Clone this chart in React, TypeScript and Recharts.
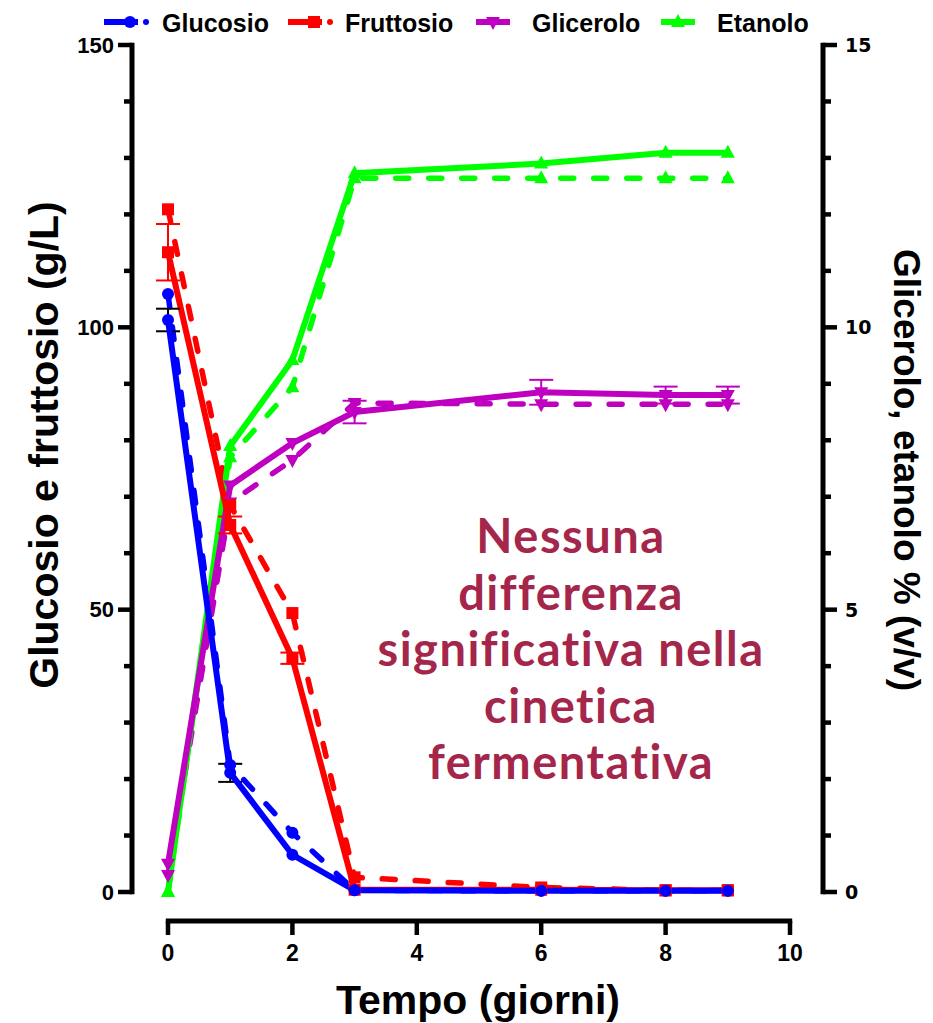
import { ComposedChart, Line, XAxis, YAxis, ErrorBar } from 'recharts'

const days = [0, 1, 2, 3, 6, 8, 9]

// two fermentations per compound: "A" drawn solid, "B" dashed
const glucosioA = [101.3, 21.1, 6.6, 0.3, 0.2, 0.2, 0.2]
const glucosioB = [105.9, 22.5, 10.5, 0.3, 0.2, 0.2, 0.2]
const fruttosioA = [113.3, 65.0, 41.4, 0.4, 0.4, 0.3, 0.3]
const fruttosioB = [120.9, 68.5, 49.4, 2.6, 0.8, 0.3, 0.3]
const gliceroloA = [0.5, 7.2, 7.95, 8.5, 8.85, 8.8, 8.8]
const gliceroloB = [0.3, 6.9, 7.65, 8.66, 8.64, 8.64, 8.64]
const etanoloA = [0, 7.9, 9.42, 12.73, 12.9, 13.09, 13.09]
const etanoloB = [0, 7.7, 8.94, 12.64, 12.64, 12.64, 12.64]

// standard deviations (null = no bar)
const glucosioAErr = [2, 1.6, null, null, null, null, null]
const fruttosioAErr = [5, 1.5, 1, null, null, null, null]
const gliceroloAErr = [null, null, null, 0.2, 0.22, 0.15, 0.15]

const leftTicks = [0, 10, 20, 30, 40, 50, 60, 70, 80, 90, 100, 110, 120, 130, 140, 150]
const rightTicks = [0, 1, 2, 3, 4, 5, 6, 7, 8, 9, 10, 11, 12, 13, 14, 15]
const xTicks = [0, 2, 4, 6, 8, 10]

const annotation = ['Nessuna', 'differenza', 'significativa nella', 'cinetica', 'fermentativa']

const BLUE = '#0000ff'
const RED = '#ff0000'
const PURPLE = '#c000c0'
const GREEN = '#00ff00'
const WINE = '#a4264a'

const rows = days.map((d, i) => ({
  day: d,
  gluA: glucosioA[i],
  gluB: glucosioB[i],
  fruA: fruttosioA[i],
  fruB: fruttosioB[i],
  gliA: gliceroloA[i],
  gliB: gliceroloB[i],
  etaA: etanoloA[i],
  etaB: etanoloB[i],
  gluAErr: glucosioAErr[i],
  fruAErr: fruttosioAErr[i],
  gliAErr: gliceroloAErr[i],
}))

const W = 933
const H = 1023
const PLOT_LEFT = 168
const PLOT_RIGHT = 790
const PLOT_TOP = 45
const PLOT_BOTTOM = 892
const LEFT_AXIS_X = 132
const RIGHT_AXIS_X = 823
const X_AXIS_Y = 921

const tickFont = { fontFamily: 'Liberation Sans, Arial, sans-serif', fontWeight: 700 }

type Shape = 'circle' | 'square' | 'up' | 'down'

function markerPath(shape: Shape, cx: number, cy: number, color: string, key?: any) {
  if (shape === 'circle') return <circle key={key} cx={cx} cy={cy} r={6} fill={color} />
  if (shape === 'square') return <rect key={key} x={cx - 6} y={cy - 6} width={12} height={12} fill={color} />
  if (shape === 'up')
    return <polygon key={key} points={`${cx},${cy - 8} ${cx + 7},${cy + 5} ${cx - 7},${cy + 5}`} fill={color} />
  return <polygon key={key} points={`${cx},${cy + 8} ${cx + 7},${cy - 5} ${cx - 7},${cy - 5}`} fill={color} />
}

const dot = (shape: Shape, color: string) => (props: any) => {
  const { cx, cy, index } = props
  if (cx == null || cy == null) return <g key={index} />
  return markerPath(shape, cx, cy, color, index)
}

const LeftTick = (props: any) => {
  const { y, payload } = props
  const major = payload.value % 50 === 0
  return (
    <g>
      <line x1={LEFT_AXIS_X - (major ? 14 : 8)} x2={LEFT_AXIS_X} y1={y} y2={y} stroke="#000" strokeWidth={4.5} />
      {major && (
        <text x={LEFT_AXIS_X - 18} y={y} textAnchor="end" dominantBaseline="central" fontSize={22} fill="#000" style={tickFont}>
          {payload.value}
        </text>
      )}
    </g>
  )
}

const RightTick = (props: any) => {
  const { y, payload } = props
  const major = payload.value % 5 === 0
  return (
    <g>
      <line x1={RIGHT_AXIS_X} x2={RIGHT_AXIS_X + (major ? 14 : 8)} y1={y} y2={y} stroke="#000" strokeWidth={4.5} />
      {major && (
        <text x={RIGHT_AXIS_X + 22} y={y} textAnchor="start" dominantBaseline="central" fontSize={19} fill="#000"
          style={{ fontFamily: 'DejaVu Sans, sans-serif', fontWeight: 700 }}>
          {payload.value}
        </text>
      )}
    </g>
  )
}

const BottomTick = (props: any) => {
  const { x, payload } = props
  return (
    <g>
      <line x1={x} x2={x} y1={X_AXIS_Y} y2={X_AXIS_Y + 14} stroke="#000" strokeWidth={4.5} />
      <text x={x} y={X_AXIS_Y + 32} textAnchor="middle" dominantBaseline="central" fontSize={23} fill="#000" style={tickFont}>
        {payload.value}
      </text>
    </g>
  )
}

// axis spines sit apart from the plot area, drawn together with the titles
const LeftDecor = () => (
  <g>
    <line x1={LEFT_AXIS_X} x2={LEFT_AXIS_X} y1={PLOT_TOP - 2.2} y2={PLOT_BOTTOM + 2.2} stroke="#000" strokeWidth={5} />
    <text x={44} y={445} transform="rotate(-90 44 445)" textAnchor="middle" dominantBaseline="central" fontSize={41} fill="#000" style={tickFont}>
      Glucosio e fruttosio (g/L)
    </text>
  </g>
)

const RightDecor = () => (
  <g>
    <line x1={RIGHT_AXIS_X} x2={RIGHT_AXIS_X} y1={PLOT_TOP - 2.2} y2={PLOT_BOTTOM + 2.2} stroke="#000" strokeWidth={5} />
    <text x={906} y={470} transform="rotate(90 906 470)" textAnchor="middle" dominantBaseline="central" fontSize={37} fill="#000" style={tickFont}>
      Glicerolo, etanolo % (v/v)
    </text>
  </g>
)

const BottomDecor = () => (
  <g>
    <line x1={PLOT_LEFT - 2.2} x2={PLOT_RIGHT + 2.2} y1={X_AXIS_Y} y2={X_AXIS_Y} stroke="#000" strokeWidth={5} />
    <text x={478} y={1000} textAnchor="middle" dominantBaseline="central" fontSize={41} fill="#000" style={tickFont}>
      Tempo (giorni)
    </text>
  </g>
)

const legendItems: { name: string; color: string; shape: Shape; x: number; tx: number }[] = [
  { name: 'Glucosio', color: BLUE, shape: 'circle', x: 104, tx: 162 },
  { name: 'Fruttosio', color: RED, shape: 'square', x: 288, tx: 345 },
  { name: 'Glicerolo', color: PURPLE, shape: 'down', x: 476, tx: 532 },
  { name: 'Etanolo', color: GREEN, shape: 'up', x: 661, tx: 717 },
]

function Legend() {
  return (
    <svg width={W} height={44} style={{ position: 'absolute', left: 0, top: 0 }}>
      {legendItems.map((it) => (
        <g key={it.name}>
          <line x1={it.x} x2={it.x + 34} y1={22} y2={22} stroke={it.color} strokeWidth={6} />
          {it.shape === 'circle' || it.shape === 'square' ? (
            <>
              {markerPath(it.shape, it.x + 26, 22, it.color)}
              <circle cx={it.x + 42} cy={22} r={3} fill={it.color} />
            </>
          ) : (
            markerPath(it.shape, it.x + 17, 22, it.color)
          )}
          <text x={it.tx} y={23} dominantBaseline="central" fontSize={25} fill="#000" style={tickFont}>
            {it.name}
          </text>
        </g>
      ))}
    </svg>
  )
}

function Note() {
  return (
    <svg width={W} height={H} style={{ position: 'absolute', left: 0, top: 0, pointerEvents: 'none' }}>
      {annotation.map((line, i) => (
        <text key={line} x={571} y={553 + i * 56.5} textAnchor="middle" fontSize={47} fill={WINE}
          style={{ fontFamily: 'Lato, sans-serif', fontWeight: 700, letterSpacing: 1.5 }}>
          {line}
        </text>
      ))}
    </svg>
  )
}

const solid = { strokeWidth: 6, isAnimationActive: false }
const dashed = { strokeWidth: 5.5, strokeDasharray: '13 20', strokeLinecap: 'round' as const, isAnimationActive: false }

export default function App() {
  return (
    <div style={{ position: 'absolute', left: 0, top: 0, width: W, height: H, background: '#fff' }}>
      <ComposedChart width={W} height={H} data={rows} margin={{ top: PLOT_TOP, right: 0, bottom: 0, left: 0 }}>
        <XAxis dataKey="day" type="number" domain={[0, 10]} ticks={xTicks} height={H - PLOT_BOTTOM}
          axisLine={false} tickLine={false} tick={<BottomTick />} label={<BottomDecor />} />
        <YAxis yAxisId="left" domain={[0, 150]} ticks={leftTicks} width={PLOT_LEFT} interval={0}
          axisLine={false} tickLine={false} tick={<LeftTick />} label={<LeftDecor />} />
        <YAxis yAxisId="right" orientation="right" domain={[0, 15]} ticks={rightTicks} width={W - PLOT_RIGHT} interval={0}
          axisLine={false} tickLine={false} tick={<RightTick />} label={<RightDecor />} />

        <Line yAxisId="right" dataKey="etaB" stroke={GREEN} {...dashed} dot={dot('up', GREEN)} />
        <Line yAxisId="right" dataKey="gliB" stroke={PURPLE} {...dashed} dot={dot('down', PURPLE)} />
        <Line yAxisId="left" dataKey="fruB" stroke={RED} {...dashed} dot={dot('square', RED)} />
        <Line yAxisId="left" dataKey="gluB" stroke={BLUE} {...dashed} dot={dot('circle', BLUE)} />

        <Line yAxisId="right" dataKey="etaA" stroke={GREEN} {...solid} dot={dot('up', GREEN)} />
        <Line yAxisId="right" dataKey="gliA" stroke={PURPLE} {...solid} dot={dot('down', PURPLE)}>
          <ErrorBar dataKey="gliAErr" direction="y" width={12} strokeWidth={2} stroke={PURPLE} />
        </Line>
        <Line yAxisId="left" dataKey="fruA" stroke={RED} {...solid} dot={dot('square', RED)}>
          <ErrorBar dataKey="fruAErr" direction="y" width={12} strokeWidth={2} stroke={RED} />
        </Line>
        <Line yAxisId="left" dataKey="gluA" stroke={BLUE} {...solid} dot={dot('circle', BLUE)}>
          <ErrorBar dataKey="gluAErr" direction="y" width={12} strokeWidth={2} stroke="#000" />
        </Line>
      </ComposedChart>
      <Legend />
      <Note />
    </div>
  )
}
